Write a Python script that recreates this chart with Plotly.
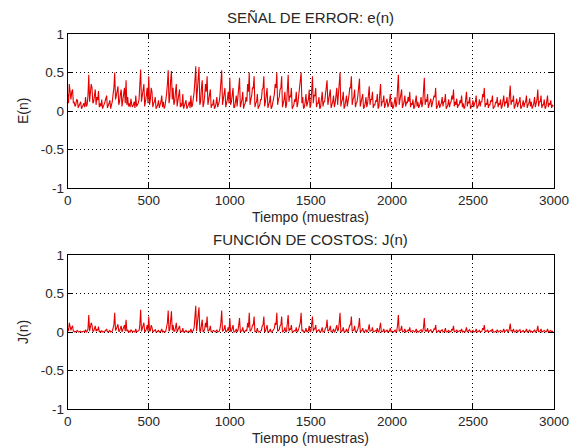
import plotly.graph_objects as go

# peaks sampled at n = 0, 10, 20, ... ; troughs/mid values at n = 5, 15, 25, ...
n_peak = list(range(0, 3000, 10))
n_mid = list(range(5, 3000, 10))

e_peak = [
    0.22, 0.35, 0.15, 0.28, 0.12, 0.08, 0.14, 0.06, 0.12, 0.05,
    0.10, 0.18, 0.08, 0.47, 0.25, 0.30, 0.12, 0.28, 0.18, 0.26,
    0.10, 0.15, 0.05, 0.12, 0.20, 0.06, 0.14, 0.08, 0.22, 0.50,
    0.20, 0.32, 0.12, 0.28, 0.15, 0.30, 0.40, 0.18, 0.10, 0.16,
    0.05, 0.12, 0.20, 0.08, 0.15, 0.54, 0.22, 0.35, 0.12, 0.30,
    0.45, 0.15, 0.25, 0.10, 0.18, 0.05, 0.14, 0.08, 0.20, 0.12,
    0.06, 0.22, 0.53, 0.18, 0.52, 0.30, 0.12, 0.35, 0.15, 0.28,
    0.10, 0.22, 0.06, 0.14, 0.05, 0.12, 0.20, 0.08, 0.25, 0.58,
    0.30, 0.57, 0.12, 0.40, 0.10, 0.35, 0.45, 0.15, 0.28, 0.08,
    0.15, 0.05, 0.18, 0.10, 0.22, 0.53, 0.15, 0.30, 0.10, 0.25,
    0.43, 0.12, 0.30, 0.05, 0.20, 0.15, 0.43, 0.10, 0.25, 0.08,
    0.18, 0.35, 0.50, 0.15, 0.30, 0.45, 0.10, 0.22, 0.06, 0.15,
    0.28, 0.45, 0.12, 0.30, 0.08, 0.20, 0.05, 0.18, 0.35, 0.50,
    0.15, 0.28, 0.45, 0.10, 0.25, 0.08, 0.47, 0.20, 0.30, 0.06,
    0.15, 0.25, 0.10, 0.32, 0.50, 0.18, 0.05, 0.22, 0.12, 0.28,
    0.08, 0.45, 0.20, 0.30, 0.10, 0.18, 0.05, 0.25, 0.12, 0.22,
    0.40, 0.15, 0.28, 0.08, 0.20, 0.10, 0.30, 0.18, 0.50, 0.12,
    0.25, 0.06, 0.20, 0.12, 0.30, 0.45, 0.15, 0.28, 0.10, 0.20,
    0.42, 0.12, 0.22, 0.05, 0.18, 0.10, 0.32, 0.15, 0.25, 0.08,
    0.14, 0.22, 0.06, 0.35, 0.12, 0.20, 0.08, 0.16, 0.10, 0.22,
    0.12, 0.05, 0.18, 0.10, 0.47, 0.15, 0.28, 0.08, 0.20, 0.12,
    0.18, 0.25, 0.10, 0.15, 0.05, 0.20, 0.12, 0.08, 0.18, 0.10,
    0.43, 0.15, 0.22, 0.08, 0.16, 0.10, 0.20, 0.30, 0.06, 0.14,
    0.08, 0.18, 0.12, 0.22, 0.05, 0.15, 0.10, 0.20, 0.28, 0.12,
    0.16, 0.08, 0.14, 0.20, 0.10, 0.05, 0.25, 0.12, 0.18, 0.06,
    0.14, 0.10, 0.20, 0.06, 0.15, 0.12, 0.22, 0.30, 0.10, 0.16,
    0.08, 0.14, 0.20, 0.05, 0.12, 0.18, 0.10, 0.15, 0.06, 0.20,
    0.12, 0.18, 0.08, 0.33, 0.14, 0.20, 0.06, 0.16, 0.10, 0.18,
    0.05, 0.14, 0.10, 0.20, 0.08, 0.16, 0.12, 0.06, 0.18, 0.10,
    0.28, 0.12, 0.20, 0.08, 0.15, 0.05, 0.20, 0.10, 0.14, 0.08,
]

e_mid = [
    0.10, 0.20, 0.25, 0.10, 0.06, 0.15, 0.04, 0.10, 0.03, 0.08,
    0.05, 0.06, 0.20, 0.12, 0.35, 0.10, 0.22, 0.08, 0.14, 0.05,
    0.06, 0.03, 0.09, 0.15, 0.04, 0.10, 0.03, 0.12, 0.30, 0.15,
    0.28, 0.08, 0.22, 0.06, 0.25, 0.10, 0.08, 0.06, 0.05, 0.08,
    0.08, 0.04, 0.06, 0.10, 0.30, 0.12, 0.28, 0.06, 0.20, 0.10,
    0.08, 0.30, 0.05, 0.12, 0.03, 0.08, 0.04, 0.12, 0.05, 0.03,
    0.12, 0.35, 0.10, 0.40, 0.15, 0.08, 0.25, 0.06, 0.20, 0.05,
    0.06, 0.03, 0.10, 0.03, 0.08, 0.04, 0.05, 0.15, 0.40, 0.12,
    0.45, 0.08, 0.30, 0.05, 0.20, 0.25, 0.08, 0.18, 0.04, 0.08,
    0.03, 0.10, 0.05, 0.12, 0.35, 0.08, 0.20, 0.05, 0.15, 0.10,
    0.08, 0.22, 0.04, 0.12, 0.06, 0.30, 0.05, 0.15, 0.03, 0.10,
    0.12, 0.25, 0.08, 0.20, 0.30, 0.05, 0.12, 0.03, 0.08, 0.15,
    0.30, 0.06, 0.20, 0.04, 0.12, 0.03, 0.10, 0.22, 0.30, 0.08,
    0.18, 0.30, 0.05, 0.15, 0.04, 0.30, 0.12, 0.18, 0.03, 0.08,
    0.12, 0.05, 0.20, 0.35, 0.10, 0.03, 0.12, 0.06, 0.15, 0.04,
    0.30, 0.10, 0.20, 0.05, 0.10, 0.03, 0.15, 0.06, 0.12, 0.25,
    0.08, 0.18, 0.04, 0.12, 0.05, 0.20, 0.08, 0.35, 0.06, 0.15,
    0.03, 0.12, 0.06, 0.20, 0.30, 0.08, 0.18, 0.05, 0.12, 0.28,
    0.06, 0.15, 0.03, 0.10, 0.05, 0.20, 0.08, 0.15, 0.04, 0.08,
    0.12, 0.03, 0.22, 0.06, 0.12, 0.04, 0.10, 0.05, 0.12, 0.06,
    0.03, 0.10, 0.05, 0.30, 0.08, 0.18, 0.04, 0.12, 0.06, 0.10,
    0.12, 0.05, 0.08, 0.03, 0.12, 0.06, 0.04, 0.10, 0.05, 0.25,
    0.08, 0.12, 0.04, 0.10, 0.05, 0.12, 0.18, 0.03, 0.08, 0.04,
    0.10, 0.06, 0.12, 0.03, 0.08, 0.05, 0.12, 0.15, 0.06, 0.08,
    0.04, 0.08, 0.10, 0.05, 0.03, 0.15, 0.06, 0.10, 0.03, 0.08,
    0.05, 0.12, 0.03, 0.08, 0.06, 0.12, 0.18, 0.05, 0.08, 0.04,
    0.08, 0.12, 0.03, 0.06, 0.10, 0.05, 0.08, 0.03, 0.12, 0.06,
    0.10, 0.04, 0.20, 0.08, 0.12, 0.03, 0.10, 0.05, 0.12, 0.03,
    0.08, 0.05, 0.12, 0.04, 0.10, 0.06, 0.03, 0.10, 0.05, 0.15,
    0.06, 0.12, 0.04, 0.08, 0.03, 0.12, 0.05, 0.08, 0.04, 0.06,
]

j_peak = [
    0.05, 0.12, 0.02, 0.08, 0.01, 0.01, 0.02, 0.00, 0.01, 0.00,
    0.01, 0.03, 0.01, 0.22, 0.06, 0.09, 0.01, 0.08, 0.03, 0.07,
    0.01, 0.02, 0.00, 0.01, 0.04, 0.00, 0.02, 0.01, 0.05, 0.25,
    0.04, 0.10, 0.01, 0.08, 0.02, 0.09, 0.16, 0.03, 0.01, 0.03,
    0.00, 0.01, 0.04, 0.01, 0.02, 0.29, 0.05, 0.12, 0.01, 0.09,
    0.20, 0.02, 0.06, 0.01, 0.03, 0.00, 0.02, 0.01, 0.04, 0.01,
    0.00, 0.05, 0.28, 0.03, 0.27, 0.09, 0.01, 0.12, 0.02, 0.08,
    0.01, 0.05, 0.00, 0.02, 0.00, 0.01, 0.04, 0.01, 0.06, 0.34,
    0.09, 0.32, 0.01, 0.16, 0.01, 0.12, 0.20, 0.02, 0.08, 0.01,
    0.02, 0.00, 0.03, 0.01, 0.05, 0.28, 0.02, 0.09, 0.01, 0.06,
    0.18, 0.01, 0.09, 0.00, 0.04, 0.02, 0.18, 0.01, 0.06, 0.01,
    0.03, 0.12, 0.25, 0.02, 0.09, 0.20, 0.01, 0.05, 0.00, 0.02,
    0.08, 0.20, 0.01, 0.09, 0.01, 0.04, 0.00, 0.03, 0.12, 0.25,
    0.02, 0.08, 0.20, 0.01, 0.06, 0.01, 0.22, 0.04, 0.09, 0.00,
    0.02, 0.06, 0.01, 0.10, 0.25, 0.03, 0.00, 0.05, 0.01, 0.08,
    0.01, 0.20, 0.04, 0.09, 0.01, 0.03, 0.00, 0.06, 0.01, 0.05,
    0.16, 0.02, 0.08, 0.01, 0.04, 0.01, 0.09, 0.03, 0.25, 0.01,
    0.06, 0.00, 0.04, 0.01, 0.09, 0.20, 0.02, 0.08, 0.01, 0.04,
    0.18, 0.01, 0.05, 0.00, 0.03, 0.01, 0.10, 0.02, 0.06, 0.01,
    0.02, 0.05, 0.00, 0.12, 0.01, 0.04, 0.01, 0.03, 0.01, 0.05,
    0.01, 0.00, 0.03, 0.01, 0.22, 0.02, 0.08, 0.01, 0.04, 0.01,
    0.03, 0.06, 0.01, 0.02, 0.00, 0.04, 0.01, 0.01, 0.03, 0.01,
    0.18, 0.02, 0.05, 0.01, 0.03, 0.01, 0.04, 0.09, 0.00, 0.02,
    0.01, 0.03, 0.01, 0.05, 0.00, 0.02, 0.01, 0.04, 0.08, 0.01,
    0.03, 0.01, 0.02, 0.04, 0.01, 0.00, 0.06, 0.01, 0.03, 0.00,
    0.02, 0.01, 0.04, 0.00, 0.02, 0.01, 0.05, 0.09, 0.01, 0.03,
    0.01, 0.02, 0.04, 0.00, 0.01, 0.03, 0.01, 0.02, 0.00, 0.04,
    0.01, 0.03, 0.01, 0.11, 0.02, 0.04, 0.00, 0.03, 0.01, 0.03,
    0.00, 0.02, 0.01, 0.04, 0.01, 0.03, 0.01, 0.00, 0.03, 0.01,
    0.08, 0.01, 0.04, 0.01, 0.02, 0.00, 0.04, 0.01, 0.02, 0.01,
]

j_mid = [
    0.01, 0.04, 0.06, 0.01, 0.00, 0.02, 0.00, 0.01, 0.00, 0.01,
    0.00, 0.00, 0.04, 0.01, 0.12, 0.01, 0.05, 0.01, 0.02, 0.00,
    0.00, 0.00, 0.01, 0.02, 0.00, 0.01, 0.00, 0.01, 0.09, 0.02,
    0.08, 0.01, 0.05, 0.00, 0.06, 0.01, 0.01, 0.00, 0.00, 0.01,
    0.01, 0.00, 0.00, 0.01, 0.09, 0.01, 0.08, 0.00, 0.04, 0.01,
    0.01, 0.09, 0.00, 0.01, 0.00, 0.01, 0.00, 0.01, 0.00, 0.00,
    0.01, 0.12, 0.01, 0.16, 0.02, 0.01, 0.06, 0.00, 0.04, 0.00,
    0.00, 0.00, 0.01, 0.00, 0.01, 0.00, 0.00, 0.02, 0.16, 0.01,
    0.20, 0.01, 0.09, 0.00, 0.04, 0.06, 0.01, 0.03, 0.00, 0.01,
    0.00, 0.01, 0.00, 0.01, 0.12, 0.01, 0.04, 0.00, 0.02, 0.01,
    0.01, 0.05, 0.00, 0.01, 0.00, 0.09, 0.00, 0.02, 0.00, 0.01,
    0.01, 0.06, 0.01, 0.04, 0.09, 0.00, 0.01, 0.00, 0.01, 0.02,
    0.09, 0.00, 0.04, 0.00, 0.01, 0.00, 0.01, 0.05, 0.09, 0.01,
    0.03, 0.09, 0.00, 0.02, 0.00, 0.09, 0.01, 0.03, 0.00, 0.01,
    0.01, 0.00, 0.04, 0.12, 0.01, 0.00, 0.01, 0.00, 0.02, 0.00,
    0.09, 0.01, 0.04, 0.00, 0.01, 0.00, 0.02, 0.00, 0.01, 0.06,
    0.01, 0.03, 0.00, 0.01, 0.00, 0.04, 0.01, 0.12, 0.00, 0.02,
    0.00, 0.01, 0.00, 0.04, 0.09, 0.01, 0.03, 0.00, 0.01, 0.08,
    0.00, 0.02, 0.00, 0.01, 0.00, 0.04, 0.01, 0.02, 0.00, 0.01,
    0.01, 0.00, 0.05, 0.00, 0.01, 0.00, 0.01, 0.00, 0.01, 0.00,
    0.00, 0.01, 0.00, 0.09, 0.01, 0.03, 0.00, 0.01, 0.00, 0.01,
    0.01, 0.00, 0.01, 0.00, 0.01, 0.00, 0.00, 0.01, 0.00, 0.06,
    0.01, 0.01, 0.00, 0.01, 0.00, 0.01, 0.03, 0.00, 0.01, 0.00,
    0.01, 0.00, 0.01, 0.00, 0.01, 0.00, 0.01, 0.02, 0.00, 0.01,
    0.00, 0.01, 0.01, 0.00, 0.00, 0.02, 0.00, 0.01, 0.00, 0.01,
    0.00, 0.01, 0.00, 0.01, 0.00, 0.01, 0.03, 0.00, 0.01, 0.00,
    0.01, 0.01, 0.00, 0.00, 0.01, 0.00, 0.01, 0.00, 0.01, 0.00,
    0.01, 0.00, 0.04, 0.01, 0.01, 0.00, 0.01, 0.00, 0.01, 0.00,
    0.01, 0.00, 0.01, 0.00, 0.01, 0.00, 0.00, 0.01, 0.00, 0.02,
    0.00, 0.01, 0.00, 0.01, 0.00, 0.01, 0.00, 0.01, 0.00, 0.00,
]

x_ticks = [0, 500, 1000, 1500, 2000, 2500, 3000]
y_ticks = [-1, -0.5, 0, 0.5, 1]
y_tick_text = ["-1", "-0.5", "0", "0.5", "1"]

titles = ["SEÑAL DE ERROR: e(n)", "FUNCIÓN DE COSTOS: J(n)"]
x_label = "Tiempo (muestras)"
y_labels = ["E(n)", "J(n)"]


def interleave(xa, ya, xb, yb):
    xs, ys = [], []
    for i in range(len(xa)):
        xs += [xa[i], xb[i]]
        ys += [ya[i], yb[i]]
    return xs, ys


xe, ye = interleave(n_peak, e_peak, n_mid, e_mid)
xj, yj = interleave(n_peak, j_peak, n_mid, j_mid)

# body margin is removed by the post script, so the figure fills the window
W, H = 569, 448
ML, MR, MT, MB = 58, 8, 8, 8
PW, PH = W - ML - MR, H - MT - MB
FONT = "Arial, Liberation Sans, sans-serif"
TXT = "#262626"
RED = "rgb(228,0,0)"


def fx(px):
    return (px - ML) / PW


def fy(py):
    return 1 - (py - MT) / PH


X0, X1 = 67.7, 554.0
TOP = (34.0, 188.0)
BOT = (255.0, 409.0)

fig = go.Figure()
fig.add_trace(go.Scatter(x=xe, y=ye, mode="lines", line=dict(color=RED, width=1.1),
                         xaxis="x", yaxis="y", showlegend=False, hoverinfo="skip"))
fig.add_trace(go.Scatter(x=xj, y=yj, mode="lines", line=dict(color=RED, width=1.1),
                         xaxis="x2", yaxis="y2", showlegend=False, hoverinfo="skip"))

common = dict(ticks="inside", ticklen=5, tickcolor="black", showline=True,
              linecolor="black", linewidth=1, mirror="ticks", showgrid=True,
              gridcolor="black", griddash="1px,3px", gridwidth=1, zeroline=False,
              automargin=False, ticklabeloverflow="allow",
              tickfont=dict(family=FONT, size=13.5, color=TXT))


def xaxis(anchor):
    return dict(domain=[fx(X0), fx(X1)], anchor=anchor, range=[0, 3000],
                tickvals=x_ticks, **common)


def yaxis(anchor, box):
    return dict(domain=[fy(box[1]), fy(box[0])], anchor=anchor, range=[-1, 1],
                tickvals=y_ticks, ticktext=y_tick_text, **common)


fig.update_layout(
    width=W, height=H, margin=dict(l=ML, r=MR, t=MT, b=MB),
    paper_bgcolor="white", plot_bgcolor="white",
    xaxis=xaxis("y"), yaxis=yaxis("x", TOP),
    xaxis2=xaxis("y2"), yaxis2=yaxis("x2", BOT),
)

ann = []
cx = fx((X0 + X1) / 2)
for t, box in zip(titles, [TOP, BOT]):
    ann.append(dict(text=t, x=cx, y=fy(box[0] - 16), xref="paper", yref="paper",
                    xanchor="center", yanchor="middle", showarrow=False,
                    font=dict(family=FONT, size=15, color=TXT)))
for box in [TOP, BOT]:
    ann.append(dict(text=x_label, x=cx, y=fy(box[1] + 29), xref="paper", yref="paper",
                    xanchor="center", yanchor="middle", showarrow=False,
                    font=dict(family=FONT, size=14, color=TXT)))
for lab, box in zip(y_labels, [TOP, BOT]):
    ann.append(dict(text=lab, x=fx(23.0), y=fy((box[0] + box[1]) / 2), xref="paper",
                    yref="paper", xanchor="center", yanchor="middle", textangle=-90,
                    showarrow=False, font=dict(family=FONT, size=14, color=TXT)))
fig.update_layout(annotations=ann)

fig.write_html(
    "out.html",
    config={"displayModeBar": False},
    post_script="document.body.style.margin='0px';document.body.style.overflow='hidden';",
)
